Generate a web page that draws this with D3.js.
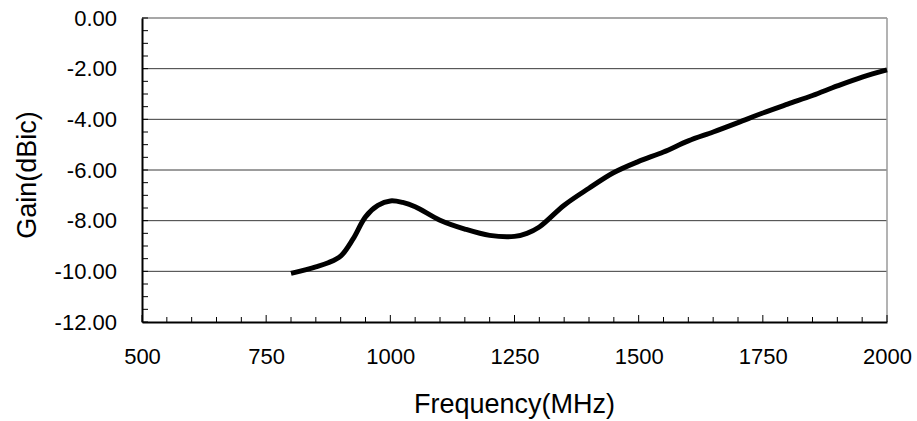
<!DOCTYPE html>
<html lang="en">
<head>
    <meta charset="UTF-8">
    <title>Gain vs Frequency</title>
    <script src="https://d3js.org/d3.v7.min.js"></script>
    <style>
        body { margin: 0; background: #fff; }
        text { font-family: "Liberation Sans", Arial, sans-serif; fill: #000; }
    </style>
</head>
<body>
<div id="chart"></div>
<script>
    // values
    var freq = [800, 850, 875, 900, 925, 950, 975, 1000, 1025, 1050, 1100, 1150, 1200, 1250, 1275, 1300,
                1350, 1400, 1450, 1500, 1550, 1600, 1650, 1700, 1750, 1800, 1850, 1900, 1950, 2000];
    var gain = [-10.08, -9.82, -9.66, -9.40, -8.72, -7.85, -7.40, -7.22, -7.28, -7.45, -7.98, -8.33, -8.58, -8.62, -8.50, -8.25,
                -7.39, -6.72, -6.10, -5.66, -5.29, -4.85, -4.50, -4.13, -3.75, -3.40, -3.06, -2.68, -2.33, -2.05];
    var xTicks = [500, 750, 1000, 1250, 1500, 1750, 2000];
    var yTicks = [0, -2, -4, -6, -8, -10, -12];

    var W = 917, H = 421;
    var margin = {top: 18, right: 30, bottom: 99, left: 142};
    var width = W - margin.left - margin.right,
        height = H - margin.top - margin.bottom;

    var x = d3.scaleLinear().domain([500, 2000]).range([0, width]);
    var y = d3.scaleLinear().domain([-12, 0]).range([height, 0]);

    var svg = d3.select("#chart").append("svg")
        .attr("width", W).attr("height", H)
      .append("g")
        .attr("transform", "translate(" + margin.left + "," + margin.top + ")");

    // grid lines
    svg.selectAll("line.grid")
        .data(yTicks.filter(function (d) { return d > -12 && d < 0; }))
        .enter().append("line")
            .attr("class", "grid")
            .attr("x1", 0).attr("x2", width)
            .attr("y1", function (d) { return y(d); })
            .attr("y2", function (d) { return y(d); })
            .attr("stroke", "#3a3a3a").attr("stroke-width", 1);

    // top and right frame (grey)
    svg.append("line").attr("x1", 0).attr("x2", width).attr("y1", 0).attr("y2", 0)
        .attr("stroke", "#8a8a8a").attr("stroke-width", 1.5);
    svg.append("line").attr("x1", width).attr("x2", width).attr("y1", 0).attr("y2", height)
        .attr("stroke", "#9a9a9a").attr("stroke-width", 1.5);

    // minor ticks, pointing inward
    var yMinor = d3.range(-12, 0.01, 0.5);
    svg.selectAll("line.ym").data(yMinor).enter().append("line")
        .attr("x1", 0).attr("x2", 6)
        .attr("y1", function (d) { return y(d); }).attr("y2", function (d) { return y(d); })
        .attr("stroke", "#000").attr("stroke-width", 1);
    var xMinor = d3.range(500, 2001, 50);
    svg.selectAll("line.xm").data(xMinor).enter().append("line")
        .attr("x1", function (d) { return x(d); }).attr("x2", function (d) { return x(d); })
        .attr("y1", height)
        .attr("y2", function (d) { return height - (d % 250 === 0 ? 7 : 5); })
        .attr("stroke", "#000").attr("stroke-width", 1);

    // axes
    var yAxis = svg.append("g")
        .call(d3.axisLeft(y).tickValues(yTicks).tickSize(0).tickPadding(25)
            .tickFormat(function (d) { return d.toFixed(2); }));
    yAxis.select(".domain").attr("stroke", "#000").attr("stroke-width", 2);
    yAxis.selectAll("text").style("font-size", "22px");

    var xAxis = svg.append("g")
        .attr("transform", "translate(0," + height + ")")
        .call(d3.axisBottom(x).tickValues(xTicks).tickSize(0).tickPadding(26)
            .tickFormat(d3.format("d")));
    xAxis.select(".domain").attr("stroke", "#000").attr("stroke-width", 2);
    xAxis.selectAll("text").style("font-size", "22px");

    // curve
    var line = d3.line()
        .x(function (d, i) { return x(freq[i]); })
        .y(function (d, i) { return y(gain[i]); })
        .curve(d3.curveCatmullRom.alpha(0.5));
    svg.append("path")
        .datum(gain)
        .attr("d", line)
        .attr("fill", "none")
        .attr("stroke", "#000")
        .attr("stroke-width", 5)
        .attr("stroke-linejoin", "round");

    // axis titles
    svg.append("text")
        .attr("x", width / 2).attr("y", height + 91)
        .attr("text-anchor", "middle")
        .style("font-size", "27px")
        .text("Frequency(MHz)");
    svg.append("text")
        .attr("transform", "translate(" + (36 - margin.left) + "," + (height / 2 + 5) + ") rotate(-90)")
        .attr("text-anchor", "middle")
        .style("font-size", "27px")
        .text("Gain(dBic)");
</script>
</body>
</html>
